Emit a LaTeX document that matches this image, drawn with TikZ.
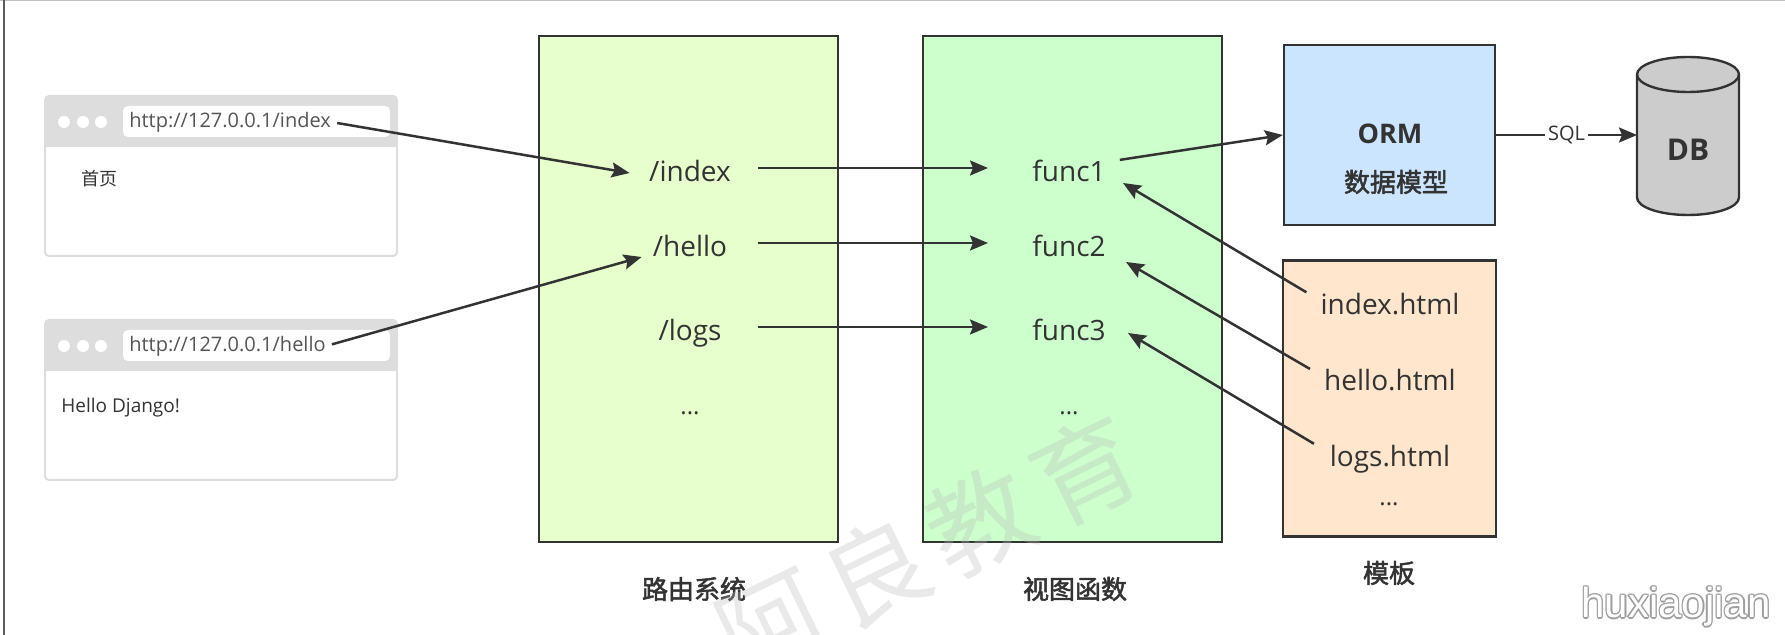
\documentclass[tikz,border=0pt]{standalone}
\usepackage{fontspec}
\setmainfont{Open Sans}
\newfontfamily\cjk{Noto Sans CJK SC}
\newfontfamily\cjkb{Noto Sans CJK SC}[FakeBold=2]
\newfontfamily\cjkwm{Noto Sans CJK SC}[LetterSpace=12]
\newfontfamily\wmfont{Liberation Sans}
\usetikzlibrary{arrows.meta}
\definecolor{c33}{HTML}{333333}
\definecolor{routefill}{HTML}{E6FFCC}
\definecolor{viewfill}{HTML}{CCFFCC}
\definecolor{ormfill}{HTML}{CCE5FF}
\definecolor{tplfill}{HTML}{FFE6CC}
\definecolor{dbfill}{HTML}{CCCCCC}
\definecolor{brgray}{HTML}{DDDDDD}
\definecolor{urltext}{HTML}{555555}
\definecolor{wmgray}{HTML}{BBBBBB}
\begin{document}
\begin{tikzpicture}[x=0.5pt,y=-0.5pt,
  arr/.style={draw=c33,line width=1.25pt,-{Stealth[length=9pt,width=7.5pt,inset=1.5pt]}},
  boxnode/.style={draw=c33,line width=1.2pt,inner sep=0pt},
  lbl/.style={font=\fontsize{14}{16}\selectfont,text=c33,inner sep=0pt,text height=14pt,text depth=0pt},
  dotlbl/.style={font=\fontsize{12}{14}\selectfont,text=c33,inner sep=0pt,anchor=base},
  captext/.style={font=\cjkb\fontsize{13}{15}\selectfont,text=c33,inner sep=0pt},
  boldlbl/.style={font=\bfseries\fontsize{13.5}{16}\selectfont,text=c33,inner sep=0pt},
  urltxt/.style={font=\fontsize{10}{12}\selectfont,text=urltext,inner sep=0pt,anchor=west},
  pagetxt/.style={font=\fontsize{9.5}{12}\selectfont,text=c33,inner sep=0pt,anchor=west},
  wmark/.style={font=\wmfont\fontsize{21}{24}\selectfont,inner sep=0pt}]
\useasboundingbox (0,0) rectangle (1785,635);
% frame edges
\draw[gray!50,line width=0.75pt] (0,0.75) -- (1785,0.75);
\draw[c33!80,line width=1pt] (4,0) -- (4,635);

% browser 1
\draw[brgray,line width=1pt,fill=white,rounded corners=2pt] (45,96) rectangle (397,256);
\fill[brgray,rounded corners=2pt] (45,96) rectangle (397,147);
\fill[brgray] (45,130) rectangle (397,147);
\fill[white] (64,122) circle[radius=3pt];
\fill[white] (83,122) circle[radius=3pt];
\fill[white] (101,122) circle[radius=3pt];
\fill[white,rounded corners=2.5pt] (123,106) rectangle (390,137);
\node[urltxt] (u1) at (129,122) {http://127.0.0.1/index};
\node[font=\cjk\fontsize{9}{11}\selectfont,text=c33,inner sep=0pt,anchor=west] (p1) at (81,179) {首页};

% browser 2
\draw[brgray,line width=1pt,fill=white,rounded corners=2pt] (45,320) rectangle (397,480);
\fill[brgray,rounded corners=2pt] (45,320) rectangle (397,371);
\fill[brgray] (45,354) rectangle (397,371);
\fill[white] (64,346) circle[radius=3pt];
\fill[white] (83,346) circle[radius=3pt];
\fill[white] (101,346) circle[radius=3pt];
\fill[white,rounded corners=2.5pt] (123,330) rectangle (390,361);
\node[urltxt] (u2) at (129,346) {http://127.0.0.1/hello};
\node[pagetxt] (p2) at (61,408) {Hello Django!};

% main boxes
\node[boxnode,fill=routefill,minimum width=149.5pt,minimum height=253pt] (router) at (688.5,289) {};
\node[boxnode,fill=viewfill,minimum width=149.5pt,minimum height=253pt] (view) at (1072.5,289) {};
\node[boxnode,fill=ormfill,minimum width=105.5pt,minimum height=90pt] (orm) at (1389.5,135) {};
\node[boxnode,fill=tplfill,minimum width=106.5pt,minimum height=138pt] (tpl) at (1389.5,398.5) {};

% DB cylinder
\filldraw[fill=dbfill,draw=c33,line width=1.2pt] (1637,74.5) -- (1637,197.5)
  arc[start angle=180,end angle=360,x radius=25.5pt,y radius=8.75pt] -- (1739,74.5)
  arc[start angle=0,end angle=180,x radius=25.5pt,y radius=8.75pt] -- cycle;
\draw[c33,line width=1.2pt] (1637,74.5) arc[start angle=180,end angle=360,x radius=25.5pt,y radius=8.75pt];
\node[boldlbl,font=\bfseries\fontsize{15}{17}\selectfont] (dbt) at (1688,150) {DB};
\coordinate (dbw) at (1637,135);

% captions
\node[captext] (capr) at (694,589) {路由系统};
\node[captext] (capv) at (1075,589) {视图函数};
\node[captext] (capt) at (1389,573) {模板};
\node[boldlbl] (ormt) at (1390,134) {ORM};
\node[captext] (ormc) at (1396,182) {数据模型};

% routes
\node[lbl,minimum width=65pt] (r1) at (690,168) {/index};
\node[lbl,minimum width=65pt] (r2) at (690,243) {/hello};
\node[lbl,minimum width=65pt] (r3) at (690,327) {/logs};
\node[dotlbl] (rd) at (690,415) {...};

% view functions
\node[lbl] (f1) at (1069,168) {func1};
\node[lbl] (f2) at (1069,243) {func2};
\node[lbl] (f3) at (1069,327) {func3};
\node[dotlbl] (fd) at (1069,415) {...};

% templates
\node[lbl] (ih) at (1390,300.5) {index.html};
\node[lbl] (hw) at (1390,377) {hello.html};
\node[lbl] (lw) at (1390,453) {logs.html};
\node[dotlbl] (td) at (1389,506) {...};

% connectors
\draw[arr,shorten <=3pt] (u1.east) -- ([shift={(5,5)}]r1.west);
\draw[arr,shorten <=3pt] (u2.east) -- ([shift={(17,14)}]r2.west);
\draw[arr,shorten <=1.5pt] (r1.east) -- ([shift={(-81,0)}]f1.center);
\draw[arr,shorten <=1.5pt] (r2.east) -- ([shift={(-81,0)}]f2.center);
\draw[arr,shorten <=1.5pt] (r3.east) -- ([shift={(-81,0)}]f3.center);
\draw[arr,shorten <=7pt] ([shift={(0,-6)}]f1.east) -- (orm.west);
\draw[arr,shorten <=8pt] (ih.west) -- ([shift={(54,15)}]f1.center);
\draw[arr,shorten <=8pt] (hw.west) -- ([shift={(57,19)}]f2.center);
\draw[arr,shorten <=9pt] (lw.west) -- ([shift={(59,6)}]f3.center);
\draw[arr] (orm.east) -- node[fill=white,inner sep=1.5pt,font=\fontsize{10}{12}\selectfont,text=c33] (sql) {SQL} (dbw);

% faint watermark over the picture
\begin{scope}
\clip (0,0) rectangle (1785,635);
\node[text=wmgray,opacity=0.32,font=\cjkwm\fontsize{52}{54}\selectfont,rotate=26,inner sep=0pt] (wm) at (928,546) {阿良教育};
\end{scope}

% outlined watermark
\foreach \dx/\dy [count=\i] in {1.3/0,-1.3/0,0/1.3,0/-1.3,0.9/0.9,-0.9/0.9,0.9/-0.9,-0.9/-0.9}
  \node[wmark,text=gray!75] (hxo\i) at ([shift={(\dx,\dy)}]1676,607) {huxiaojian};
\node[wmark,text=white] (hx) at (1676,607) {huxiaojian};
\end{tikzpicture}
\end{document}
